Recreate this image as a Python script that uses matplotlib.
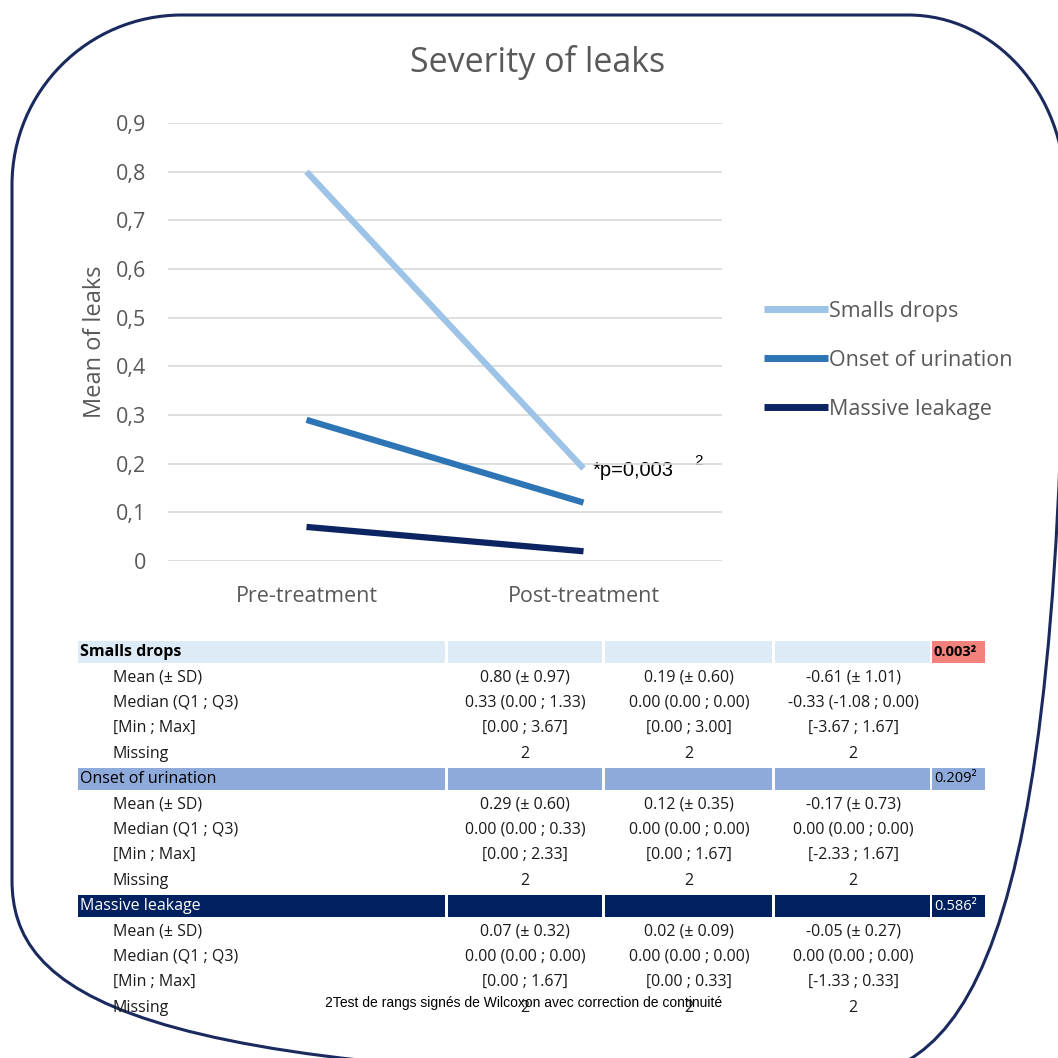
import matplotlib
matplotlib.use("Agg")
import matplotlib.pyplot as plt
from matplotlib.patches import Rectangle, PathPatch
from matplotlib.path import Path

# ---------------- data ----------------
timepoints = ["Pre-treatment", "Post-treatment"]
series_names = ["Smalls drops", "Onset of urination", "Massive leakage"]
smalls_drops = [0.80, 0.19]
onset_urination = [0.29, 0.12]
massive_leakage = [0.07, 0.02]
yticks = [0, 0.1, 0.2, 0.3, 0.4, 0.5, 0.6, 0.7, 0.8, 0.9]
ytick_labels = ["0", "0,1", "0,2", "0,3", "0,4", "0,5", "0,6", "0,7", "0,8", "0,9"]

row_labels = ["Mean (± SD)", "Median (Q1 ; Q3)", "[Min ; Max]", "Missing"]
smalls_table = [["0.80 (± 0.97)", "0.19 (± 0.60)", "-0.61 (± 1.01)"],
                ["0.33 (0.00 ; 1.33)", "0.00 (0.00 ; 0.00)", "-0.33 (-1.08 ; 0.00)"],
                ["[0.00 ; 3.67]", "[0.00 ; 3.00]", "[-3.67 ; 1.67]"],
                ["2", "2", "2"]]
onset_table = [["0.29 (± 0.60)", "0.12 (± 0.35)", "-0.17 (± 0.73)"],
               ["0.00 (0.00 ; 0.33)", "0.00 (0.00 ; 0.00)", "0.00 (0.00 ; 0.00)"],
               ["[0.00 ; 2.33]", "[0.00 ; 1.67]", "[-2.33 ; 1.67]"],
               ["2", "2", "2"]]
massive_table = [["0.07 (± 0.32)", "0.02 (± 0.09)", "-0.05 (± 0.27)"],
                 ["0.00 (0.00 ; 0.00)", "0.00 (0.00 ; 0.00)", "0.00 (0.00 ; 0.00)"],
                 ["[0.00 ; 1.67]", "[0.00 ; 0.33]", "[-1.33 ; 0.33]"],
                 ["2", "2", "2"]]
p_values = ["0.003²", "0.209²", "0.586²"]
footnote = "2Test de rangs signés de Wilcoxon avec correction de continuité"

# ---------------- styles ----------------
line_colors = ["#9dc3e6", "#2e75b6", "#0c2461"]
header_colors = ["#ddebf7", "#8eaadb", "#002060"]
pval_colors = ["#f4827c", "#8eaadb", "#002060"]
header_text = ["black", "black", "white"]
gray = "#595959"
FONT = "Open Sans"

W = H = 1058
fig = plt.figure(figsize=(W / 100, H / 100), dpi=100)
fig.patch.set_facecolor("white")

# overlay axes in pixel coordinates
ov = fig.add_axes([0, 0, 1, 1])
ov.set_xlim(0, W)
ov.set_ylim(H, 0)
ov.axis("off")

# rounded frame built from quarter-ellipse Bezier corners
K = 0.5523
def corner(p0, c, p3):
    p1 = (p0[0] + K * (c[0] - p0[0]), p0[1] + K * (c[1] - p0[1]))
    p2 = (p3[0] + K * (c[0] - p3[0]), p3[1] + K * (c[1] - p3[1]))
    return [p1, p2, p3]

L, R, T, B = 12, 1065, 15, 1080
verts = [(L + 170, T), (R - 157, T)]
codes = [Path.MOVETO, Path.LINETO]
verts += corner((R - 157, T), (R, T), (R, T + 175)); codes += [Path.CURVE4] * 3
verts += [(R, B - 200)]; codes += [Path.LINETO]
verts += corner((R, B - 200), (R, B), (R - 240, B)); codes += [Path.CURVE4] * 3
verts += [(L + 240, B)]; codes += [Path.LINETO]
verts += corner((L + 240, B), (L, B), (L, B - 200)); codes += [Path.CURVE4] * 3
verts += [(L, T + 170)]; codes += [Path.LINETO]
verts += corner((L, T + 170), (L, T), (L + 170, T)); codes += [Path.CURVE4] * 3
ov.add_patch(PathPatch(Path(verts, codes), fill=False, edgecolor="#1b2a5e",
                       linewidth=2.2, clip_on=False))

# ---------------- line chart ----------------
ax = fig.add_axes([168 / W, 1 - 561 / H, 554 / W, 438 / H])
x = [0, 1]
for vals, name, c in zip([smalls_drops, onset_urination, massive_leakage], series_names, line_colors):
    ax.plot(x, vals, color=c, linewidth=4.5, label=name, solid_capstyle="butt", zorder=3)
ax.set_xlim(-0.5, 1.5)
ax.set_ylim(0, 0.9)
ax.set_yticks(yticks)
ax.set_yticklabels(ytick_labels, fontfamily=FONT, fontsize=15.5, color=gray)
ax.set_xticks(x)
ax.set_xticklabels(timepoints, fontfamily=FONT, fontsize=15.5, color=gray)
ax.tick_params(axis="y", length=0, pad=16)
ax.tick_params(axis="x", length=0, pad=18)
for s in ax.spines.values():
    s.set_visible(False)
ax.grid(axis="y", color="#d9d9d9", linewidth=1.2, zorder=0)
ax.set_ylabel("Mean of leaks", fontfamily=FONT, fontsize=17, color=gray, labelpad=6)
ax.patch.set_alpha(0)

leg = ax.legend(loc="center left", bbox_to_anchor=(1.04, 0.458), frameon=False,
                prop={"family": FONT, "size": 15.5}, handlelength=3.0, handletextpad=0.05,
                labelspacing=1.3, labelcolor=gray)
for h in leg.get_lines():
    h.set_linewidth(5)

ov.text(538, 63, "Severity of leaks", ha="center", va="center", fontfamily=FONT,
        fontsize=24.5, color=gray)
ov.text(593, 470, "*p=0,003", ha="left", va="center", fontfamily="Liberation Sans",
        fontsize=14.5, color="black")
ov.text(694, 461, "2", ha="left", va="center", fontfamily="Liberation Sans",
        fontsize=11, color="black")

# ---------------- table ----------------
col_edges = [(78, 445), (448, 602), (605, 772), (775, 930)]
col_centers = [525, 689, 853]
pcol = (932, 985)
row_step = 25.4
start_y = 652
TFONT = 11.5

blocks = [smalls_table, onset_table, massive_table]
for b, table in enumerate(blocks):
    yh = start_y + b * 5 * row_step
    for (x0, x1) in col_edges:
        ov.add_patch(Rectangle((x0, yh - 11), x1 - x0, 22, facecolor=header_colors[b],
                               edgecolor="none"))
    ov.add_patch(Rectangle((pcol[0], yh - 11), pcol[1] - pcol[0], 22,
                           facecolor=pval_colors[b], edgecolor="none"))
    ov.text(80, yh, series_names[b], ha="left", va="center", fontfamily=FONT,
            fontsize=TFONT, color=header_text[b],
            fontweight="bold" if b == 0 else "normal")
    ov.text(934, yh, p_values[b], ha="left", va="center", fontfamily=FONT,
            fontsize=TFONT - 1, color=header_text[b],
            fontweight="bold" if b == 0 else "normal")
    for r, lab in enumerate(row_labels):
        yr = yh + (r + 1) * row_step
        ov.text(113, yr, lab, ha="left", va="center", fontfamily=FONT,
                fontsize=TFONT, color="#1a1a1a")
        for c, val in enumerate(table[r]):
            ov.text(col_centers[c], yr, val, ha="center", va="center", fontfamily=FONT,
                    fontsize=TFONT, color="#1a1a1a")

ov.text(325, 1003, footnote, ha="left", va="center", fontfamily="Liberation Sans",
        fontsize=10, color="black", zorder=5)

fig.savefig("out.png", dpi=100, facecolor="white")
